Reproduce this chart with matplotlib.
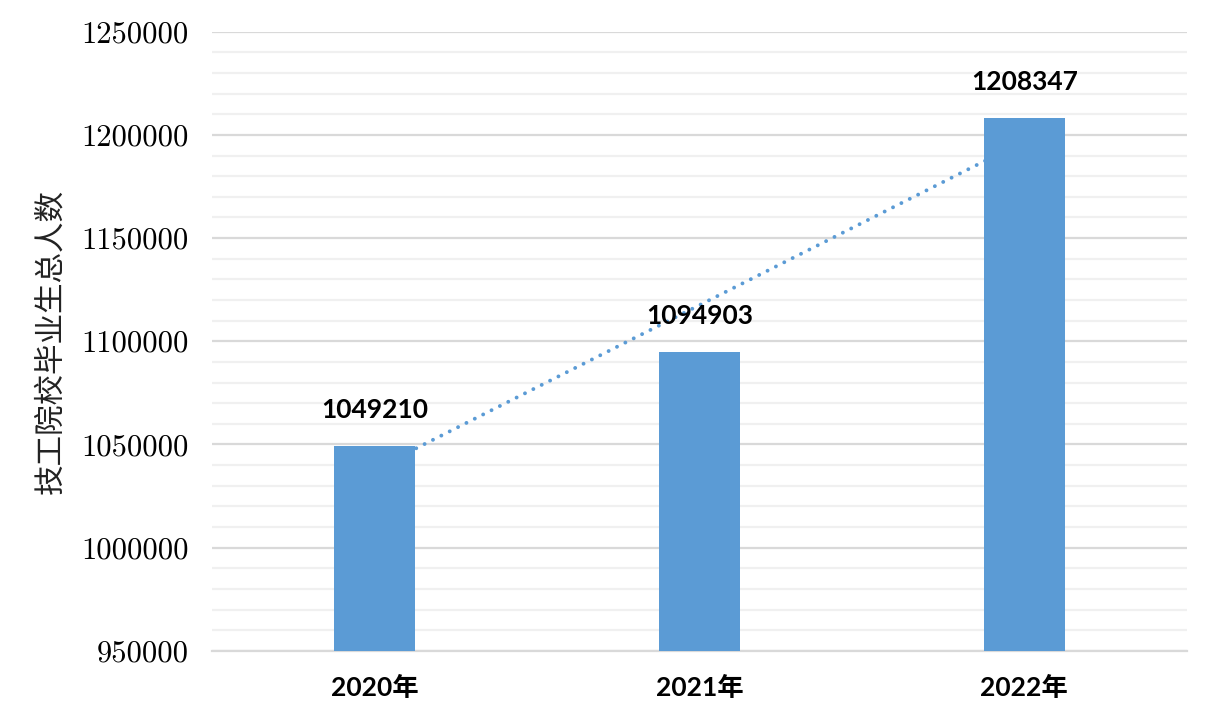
import numpy as np
import matplotlib
matplotlib.use("Agg")
import matplotlib.pyplot as plt
from matplotlib.ticker import MultipleLocator, StrMethodFormatter

years = ["2020年", "2021年", "2022年"]
graduates = [1049210, 1094903, 1208347]
ylabel = "技工院校毕业生总人数"

bar_color = "#5B9BD5"

fig = plt.figure(figsize=(12.11, 7.2), dpi=100)
ax = fig.add_axes([0.175, 0.096, 0.805, 0.860])

x = np.arange(len(years))

# linear trend line, drawn behind the bars
k, b = np.polyfit(x, graduates, 1)
ax.plot(x, k * x + b, color=bar_color, lw=2.8, linestyle=(0, (0.01, 2.4)),
        dash_capstyle="round", zorder=2)

ax.bar(x, graduates, width=0.25, color=bar_color, zorder=3)

for xi, v in zip(x, graduates):
    ax.annotate(str(v), (xi, v), xytext=(0, 26), textcoords="offset points",
                ha="center", va="center", fontsize=19, fontweight="bold",
                family=["Lato", "DejaVu Sans"], color="black", zorder=4)

ax.set_xlim(-0.5, 2.5)
ax.set_ylim(950000, 1250000)
ax.yaxis.set_major_locator(MultipleLocator(50000))
ax.yaxis.set_minor_locator(MultipleLocator(10000))
ax.yaxis.set_major_formatter(StrMethodFormatter("{x:.0f}"))
ax.grid(which="major", axis="y", color="#d9d9d9", lw=1.6, zorder=0)
ax.grid(which="minor", axis="y", color="#f0f0f0", lw=1.6, zorder=0)
ax.set_axisbelow(True)

ax.set_xticks(x)
ax.set_xticklabels(years, fontsize=19, fontweight="bold",
                   family=["Lato", "Noto Sans CJK SC"])
for lab in ax.get_yticklabels():
    lab.set_family(["cmr10", "Liberation Serif"])
    lab.set_fontsize(22)
ax.tick_params(axis="both", which="both", length=0)
ax.tick_params(axis="x", pad=18)
ax.tick_params(axis="y", pad=17)

for s in ["top", "right", "left"]:
    ax.spines[s].set_visible(False)
ax.spines["bottom"].set_color("#d9d9d9")
ax.spines["bottom"].set_linewidth(1.6)

ax.set_ylabel(ylabel, fontsize=22, family=["Noto Sans CJK SC", "DejaVu Sans"],
              fontweight="light", color="#222222")
ax.yaxis.set_label_coords(-0.149, 0.5)

fig.savefig("out.png", dpi=100)
